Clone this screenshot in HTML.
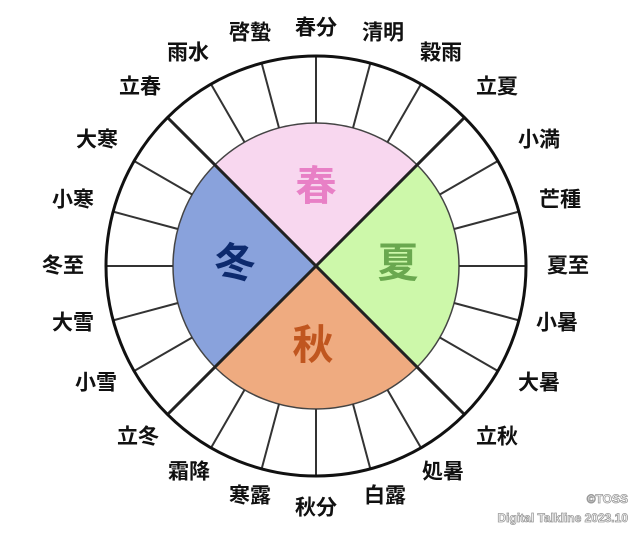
<!DOCTYPE html>
<html><head><meta charset="utf-8"><style>
html,body{margin:0;padding:0;background:#fff}
svg{display:block}
.l{font-family:"Liberation Sans","Noto Sans CJK JP",sans-serif;font-weight:bold;font-size:21px;fill:#111;text-anchor:middle;dominant-baseline:central}
.b{font-family:"Liberation Sans","Noto Sans CJK JP",sans-serif;font-weight:bold;font-size:41px;text-anchor:middle;dominant-baseline:central}
</style></head><body>
<svg width="640" height="535" viewBox="0 0 640 535" xmlns="http://www.w3.org/2000/svg">
<g transform="translate(316,266)">
<path d="M0 0 L-101.1 -101.1 A143 143 0 0 1 101.1 -101.1 Z" fill="#f8d7ef"/>
<path d="M0 0 L101.1 -101.1 A143 143 0 0 1 101.1 101.1 Z" fill="#cdf8aa"/>
<path d="M0 0 L101.1 101.1 A143 143 0 0 1 -101.1 101.1 Z" fill="#efab80"/>
<path d="M0 0 L-101.1 101.1 A143 143 0 0 1 -101.1 -101.1 Z" fill="#89a2dc"/>
<circle r="143" fill="none" stroke="#444" stroke-width="1.5"/>
<g stroke="#333" stroke-width="2">
<line x1="0" y1="-143" x2="0" y2="-210" transform="rotate(0)"/>
<line x1="0" y1="-143" x2="0" y2="-210" transform="rotate(15)"/>
<line x1="0" y1="-143" x2="0" y2="-210" transform="rotate(30)"/>
<line x1="0" y1="-143" x2="0" y2="-210" transform="rotate(60)"/>
<line x1="0" y1="-143" x2="0" y2="-210" transform="rotate(75)"/>
<line x1="0" y1="-143" x2="0" y2="-210" transform="rotate(90)"/>
<line x1="0" y1="-143" x2="0" y2="-210" transform="rotate(105)"/>
<line x1="0" y1="-143" x2="0" y2="-210" transform="rotate(120)"/>
<line x1="0" y1="-143" x2="0" y2="-210" transform="rotate(150)"/>
<line x1="0" y1="-143" x2="0" y2="-210" transform="rotate(165)"/>
<line x1="0" y1="-143" x2="0" y2="-210" transform="rotate(180)"/>
<line x1="0" y1="-143" x2="0" y2="-210" transform="rotate(195)"/>
<line x1="0" y1="-143" x2="0" y2="-210" transform="rotate(210)"/>
<line x1="0" y1="-143" x2="0" y2="-210" transform="rotate(240)"/>
<line x1="0" y1="-143" x2="0" y2="-210" transform="rotate(255)"/>
<line x1="0" y1="-143" x2="0" y2="-210" transform="rotate(270)"/>
<line x1="0" y1="-143" x2="0" y2="-210" transform="rotate(285)"/>
<line x1="0" y1="-143" x2="0" y2="-210" transform="rotate(300)"/>
<line x1="0" y1="-143" x2="0" y2="-210" transform="rotate(330)"/>
<line x1="0" y1="-143" x2="0" y2="-210" transform="rotate(345)"/>
</g>
<g stroke="#222" stroke-width="3">
<line x1="-148.5" y1="-148.5" x2="148.5" y2="148.5"/>
<line x1="148.5" y1="-148.5" x2="-148.5" y2="148.5"/>
</g>
<circle r="210" fill="none" stroke="#111" stroke-width="3"/>
</g>
<text class="b" x="316" y="186" fill="#e880c6">春</text>
<text class="b" x="398" y="263" fill="#6aa84f">夏</text>
<text class="b" x="313" y="345" fill="#c0561f">秋</text>
<text class="b" x="235" y="263" fill="#0d2a6e">冬</text>
<text class="l" x="316" y="28">春分</text>
<text class="l" x="383" y="33">清明</text>
<text class="l" x="441" y="53">穀雨</text>
<text class="l" x="497" y="87">立夏</text>
<text class="l" x="539" y="140">小満</text>
<text class="l" x="560" y="200">芒種</text>
<text class="l" x="568" y="266">夏至</text>
<text class="l" x="557" y="323">小暑</text>
<text class="l" x="539" y="383">大暑</text>
<text class="l" x="497" y="437">立秋</text>
<text class="l" x="443" y="472">処暑</text>
<text class="l" x="385" y="496">白露</text>
<text class="l" x="316" y="508">秋分</text>
<text class="l" x="250" y="496">寒露</text>
<text class="l" x="189" y="472">霜降</text>
<text class="l" x="138" y="437">立冬</text>
<text class="l" x="96" y="383">小雪</text>
<text class="l" x="73" y="323">大雪</text>
<text class="l" x="63" y="266">冬至</text>
<text class="l" x="73" y="200">小寒</text>
<text class="l" x="97" y="140">大寒</text>
<text class="l" x="140" y="87">立春</text>
<text class="l" x="188" y="53">雨水</text>
<text class="l" x="250" y="33">啓蟄</text>
<g font-family="Liberation Sans,sans-serif" font-weight="bold" font-size="12" fill="#fff" stroke="#999" stroke-width="0.8" text-anchor="end">
<text x="628" y="503">©TOSS</text>
<text x="628" y="522">Digital Talkline 2023.10</text>
</g>
</svg>
</body></html>
